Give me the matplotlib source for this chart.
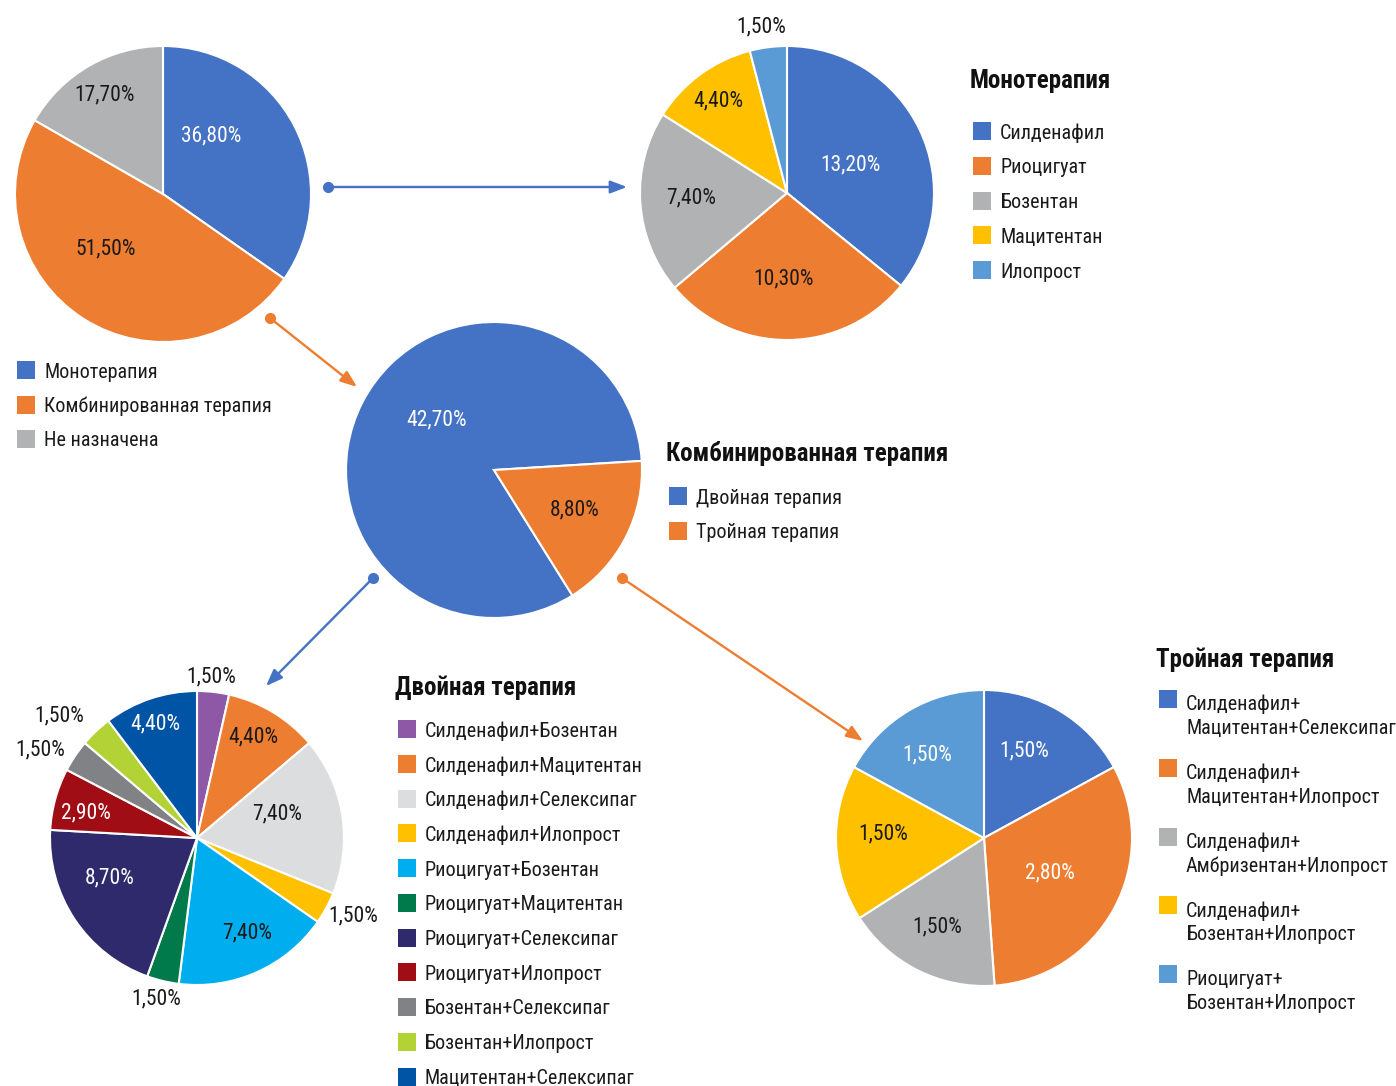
import matplotlib
matplotlib.use("Agg")
import matplotlib.pyplot as plt
from matplotlib import font_manager
from matplotlib.patches import Rectangle
import numpy as np

# ---- data ----
overall_labels = ["Монотерапия", "Комбинированная терапия", "Не назначена"]
overall_values = [36.8, 51.5, 17.7]

mono_labels = ["Силденафил", "Риоцигуат", "Бозентан", "Мацитентан", "Илопрост"]
mono_values = [13.2, 10.3, 7.4, 4.4, 1.5]

combo_labels = ["Двойная терапия", "Тройная терапия"]
combo_values = [42.7, 8.8]

double_labels = ["Силденафил+Бозентан", "Силденафил+Мацитентан", "Силденафил+Селексипаг",
                 "Силденафил+Илопрост", "Риоцигуат+Бозентан", "Риоцигуат+Мацитентан",
                 "Риоцигуат+Селексипаг", "Риоцигуат+Илопрост", "Бозентан+Селексипаг",
                 "Бозентан+Илопрост", "Мацитентан+Селексипаг"]
double_values = [1.5, 4.4, 7.4, 1.5, 7.4, 1.5, 8.7, 2.9, 1.5, 1.5, 4.4]

triple_labels = ["Силденафил+\nМацитентан+Селексипаг", "Силденафил+\nМацитентан+Илопрост",
                 "Силденафил+\nАмбризентан+Илопрост", "Силденафил+\nБозентан+Илопрост",
                 "Риоцигуат+\nБозентан+Илопрост"]
triple_values = [1.5, 2.8, 1.5, 1.5, 1.5]

# ---- styles ----
BLUE, ORANGE, GRAY, YELLOW, LBLUE = "#4472C4", "#ED7D31", "#B1B2B4", "#FFC000", "#5B9BD5"
basic_colors = [BLUE, ORANGE, GRAY, YELLOW, LBLUE]
double_colors = ["#8E58A6", "#ED7D31", "#DCDDDF", "#FFC000", "#00AEEF", "#007A4A",
                 "#2E2A6B", "#A00D14", "#808285", "#B2D235", "#0054A6"]
DARK, LIGHT = "#1A1A1A", "#FFFFFF"

available = {f.name for f in font_manager.fontManager.ttflist}
main_font = next((f for f in ["Roboto Condensed", "Liberation Sans Narrow", "Roboto", "Liberation Sans"]
                  if f in available), "DejaVu Sans")
plt.rcParams["font.family"] = [main_font, "DejaVu Sans"]

W, H = 1396, 1086
DY = 2  # small downward nudge for text baselines

fig = plt.figure(figsize=(W / 100, H / 100), dpi=100)
ax = fig.add_axes([0, 0, 1, 1])


def pie(values, colors, cx, cy, r, start, dists, offsets, txt_colors):
    wedges, _ = ax.pie(values, colors=colors, center=(cx, H - cy), radius=r,
                       startangle=start, counterclock=False,
                       wedgeprops=dict(edgecolor="white", linewidth=1.5))
    for w, v, d, o, c in zip(wedges, values, dists, offsets, txt_colors):
        a = np.deg2rad((w.theta1 + w.theta2) / 2 + o)
        ax.text(cx + r * d * np.cos(a), H - cy - DY + r * d * np.sin(a),
                f"{v:.2f}%".replace(".", ","), ha="center", va="center",
                fontsize=15.5, color=c)


def legend(x, y, labels, colors, step, title=None, title_dy=0):
    if title:
        ax.text(x - 3, H - (y - title_dy) - DY, title, ha="left", va="center",
                fontsize=18, fontweight="bold", color="#111111")
    for i, (lab, col) in enumerate(zip(labels, colors)):
        yy = y + i * step
        ax.add_patch(Rectangle((x, H - yy - 9), 18, 18, color=col, lw=0))
        if "\n" in lab:
            ax.text(x + 27, H - yy + 4, lab, ha="left", va="top",
                    fontsize=14.5, color=DARK, linespacing=1.3)
        else:
            ax.text(x + 27, H - yy - DY, lab, ha="left", va="center",
                    fontsize=14.5, color=DARK)


def arrow(x0, y0, x1, y1, col):
    ax.plot([x0], [H - y0], "o", color=col, ms=7, zorder=5)
    ax.annotate("", xy=(x1, H - y1), xytext=(x0, H - y0),
                arrowprops=dict(arrowstyle="-|>,head_length=1.0,head_width=0.38",
                                color=col, lw=1.7, shrinkA=0, shrinkB=0))


# overall
pie(overall_values, basic_colors[:3], 163, 194, 148, 90,
    [0.52, 0.53, 0.79], [24, -15, 0], [LIGHT, DARK, DARK])
legend(17, 370, overall_labels, basic_colors[:3], 34.5)

# monotherapy
pie(mono_values, basic_colors, 787, 193, 147, 90,
    [0.48, 0.57, 0.65, 0.79, 1.16], [0, -3, -2, 0, 1.5], [LIGHT, DARK, DARK, DARK, DARK])
legend(973, 131, mono_labels, basic_colors, 34.8, "Монотерапия", 52)

# combined
pie(combo_values, basic_colors[:2], 494, 470, 148, -58,
    [0.52, 0.60], [-15, 2], [LIGHT, DARK])
legend(669, 496, combo_labels, basic_colors[:2], 34.5, "Комбинированная терапия", 45)

# double therapy
pie(double_values, double_colors, 197, 838, 147, 90,
    [1.11, 0.80, 0.57, 1.18, 0.72, 1.12, 0.65, 0.78, 1.23, 1.26, 0.84],
    [1.4, 2.7, 9, 2.5, 4.3, -1, -10, 1.7, 4.2, 4.6, 1],
    [DARK, DARK, DARK, DARK, DARK, DARK, LIGHT, LIGHT, DARK, DARK, LIGHT])
legend(398, 729, double_labels, double_colors, 34.75, "Двойная терапия", 43)

# triple therapy
pie(triple_values, basic_colors, 984, 838, 148, 90,
    [0.66, 0.50, 0.67, 0.68, 0.69], [6.6, 2.4, -1.6, -5.7, 2.8],
    [LIGHT, LIGHT, DARK, DARK, LIGHT])
legend(1159, 699, triple_labels, basic_colors, 68.8, "Тройная терапия", 41)

arrow(328, 187, 627, 187, BLUE)
arrow(270, 318, 357, 387, ORANGE)
arrow(373, 578, 266, 686, BLUE)
arrow(622, 578, 863, 741, ORANGE)

ax.set_xlim(0, W)
ax.set_ylim(0, H)
ax.set_aspect("equal")
ax.axis("off")
fig.savefig("out.png", dpi=100, facecolor="white")
